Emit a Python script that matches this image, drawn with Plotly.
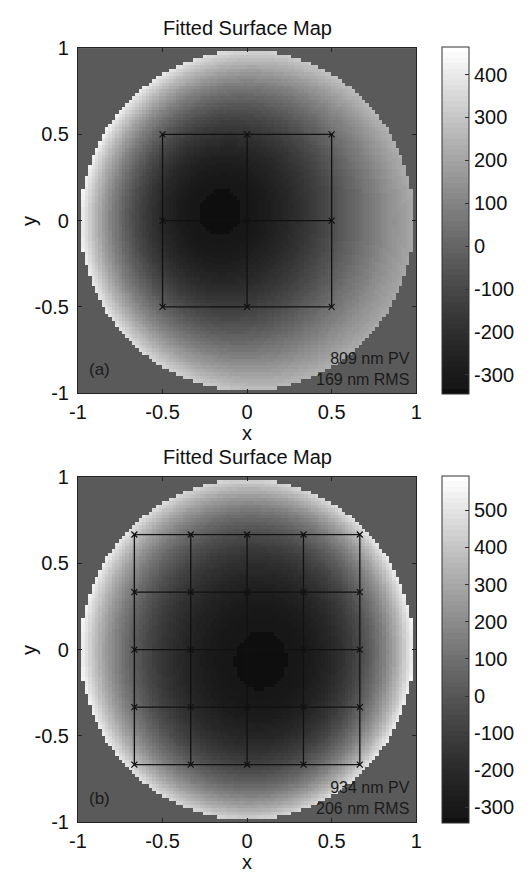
import numpy as np
import plotly.graph_objects as go

# ---------------- data ----------------
# Fitted surface polynomial coefficients (nm):
# z = piston + r2*r^2 + r4*r^4 + astig*(x^2-y^2) + coma_x*(3r^2-2)x + coma_y*(3r^2-2)y + tilt_x*x + tilt_y*y
term_names = ["piston", "r2", "r4", "astig", "coma_x", "coma_y", "tilt_x", "tilt_y"]
coeffs_a = [-323.6, 660.0, 0.0, 0.0, -120.0, 35.0, 0.0, 0.0]
coeffs_b = [-335.0, 495.0, 380.0, 54.0, 33.0, -21.0, -33.0, 21.0]

cbar_range_a = [-345, 464]
cbar_range_b = [-342, 592]
cbar_ticks_a = [-300, -200, -100, 0, 100, 200, 300, 400]
cbar_ticks_b = [-300, -200, -100, 0, 100, 200, 300, 400, 500]

grid_nodes_a = [-0.5, 0.0, 0.5]
grid_nodes_b = [-2 / 3, -1 / 3, 0.0, 1 / 3, 2 / 3]

axis_ticks = [-1, -0.5, 0, 0.5, 1]
axis_ticktext = ["-1", "-0.5", "0", "0.5", "1"]
titles = ["Fitted Surface Map", "Fitted Surface Map"]
panel_labels = ["(a)", "(b)"]
pv_labels = ["809 nm PV", "934 nm PV"]
rms_labels = ["169 nm RMS", "206 nm RMS"]

# ---------------- sampling grid ----------------
N = 100
xs = np.linspace(-0.99, 0.99, N)
ys = np.linspace(-0.99, 0.99, N)
X, Y = np.meshgrid(xs, ys)
R2 = X ** 2 + Y ** 2
aperture = R2 <= 0.985 ** 2


def surface(c):
    p, a2, a4, ast, cx, cy, tx, ty = c
    z = (p + a2 * R2 + a4 * R2 ** 2 + ast * (X ** 2 - Y ** 2)
         + cx * (3 * R2 - 2) * X + cy * (3 * R2 - 2) * Y + tx * X + ty * Y)
    return np.where(aperture, z, np.nan)


# stepped 64-level gray colormap (MATLAB style)
levels = 64
cscale = []
for k in range(levels):
    if k == 0:
        g = 14
    else:
        g = int(round(23 + 232 * ((k - 1) / (levels - 2)) ** 1.25))
    col = f"rgb({g},{g},{g})"
    cscale.append([k / levels, col])
    cscale.append([(k + 1) / levels, col])

W, H = 532, 878
FONT = "Liberation Sans, Arial, sans-serif"
FS = 20


def px_x(px):
    return px / W


def px_y(py):
    return 1 - py / H


panels = [
    dict(coeffs=coeffs_a, rng=cbar_range_a, ticks=cbar_ticks_a, nodes=grid_nodes_a,
         top=38, bot=392, cb_top=37, cb_bot=393),
    dict(coeffs=coeffs_b, rng=cbar_range_b, ticks=cbar_ticks_b, nodes=grid_nodes_b,
         top=478, bot=832, cb_top=477, cb_bot=833),
]

fig = go.Figure()
annotations = []
ax_left, ax_right = 71, 419

for i, pnl in enumerate(panels):
    xa = "x" if i == 0 else "x2"
    ya = "y" if i == 0 else "y2"
    cb_mid = (pnl["cb_top"] + pnl["cb_bot"]) / 2
    fig.add_trace(go.Heatmap(
        x=xs, y=ys, z=surface(pnl["coeffs"]),
        zmin=pnl["rng"][0], zmax=pnl["rng"][1],
        colorscale=cscale, zsmooth=False, hoverongaps=False,
        xaxis=xa, yaxis=ya,
        colorbar=dict(
            x=px_x(446), xanchor="left", y=px_y(cb_mid), yanchor="middle",
            len=(pnl["cb_bot"] - pnl["cb_top"]) / H, lenmode="fraction",
            thickness=27, thicknessmode="pixels", xpad=0, ypad=0,
            outlinewidth=1, outlinecolor="#333333",
            ticks="inside", ticklen=4, tickcolor="#333333", tickwidth=1,
            tickvals=pnl["ticks"], ticktext=[str(t) for t in pnl["ticks"]],
            tickfont=dict(size=FS, family=FONT, color="#111111"),
        ),
    ))
    nodes = pnl["nodes"]
    lo, hi = min(nodes), max(nodes)
    lx, ly = [], []
    for v in nodes:
        lx += [lo, hi, None, v, v, None]
        ly += [v, v, None, lo, hi, None]
    fig.add_trace(go.Scatter(
        x=lx, y=ly, mode="lines", line=dict(color="#111111", width=1.3),
        xaxis=xa, yaxis=ya, showlegend=False, hoverinfo="skip"))
    mx = [a for a in nodes for b in nodes]
    my = [b for a in nodes for b in nodes]
    fig.add_trace(go.Scatter(
        x=mx, y=my, mode="markers",
        marker=dict(symbol="x-thin", size=6, line=dict(color="#111111", width=1.2)),
        xaxis=xa, yaxis=ya, showlegend=False, hoverinfo="skip"))

    top, bot = pnl["top"], pnl["bot"]
    mid = (top + bot) / 2
    annotations += [
        dict(text=titles[i], x=px_x(245), y=px_y(top - 21), xref="paper", yref="paper",
             xanchor="center", yanchor="middle", showarrow=False,
             font=dict(size=FS, family=FONT, color="#111111")),
        dict(text="x", x=px_x(245), y=px_y(bot + 41), xref="paper", yref="paper",
             xanchor="center", yanchor="middle", showarrow=False, borderpad=0,
             font=dict(size=FS, family=FONT, color="#111111")),
        dict(text="y", x=px_x(20), y=px_y(mid), xref="paper", yref="paper",
             xanchor="center", yanchor="middle", showarrow=False, textangle=-90,
             font=dict(size=FS, family=FONT, color="#111111")),
        dict(text=panel_labels[i], x=px_x(93), y=px_y(bot - 24), xref="paper", yref="paper",
             xanchor="center", yanchor="middle", showarrow=False,
             font=dict(size=17, family=FONT, color="#1a1a1a")),
        dict(text=pv_labels[i] + "<br>" + rms_labels[i], x=px_x(414), y=px_y(bot - 25),
             xref="paper", yref="paper", align="right",
             xanchor="right", yanchor="middle", showarrow=False, borderpad=0,
             font=dict(size=16, family=FONT, color="#1a1a1a")),
    ]

axis_common = dict(
    range=[-1, 1], tickvals=axis_ticks, ticktext=axis_ticktext,
    ticks="inside", ticklen=4, tickcolor="#222222", tickwidth=1,
    showline=True, linecolor="#222222", linewidth=1, mirror="allticks",
    showgrid=False, zeroline=False,
    tickfont=dict(size=FS, family=FONT, color="#111111"),
)

fig.update_layout(
    width=W, height=H,
    margin=dict(l=0, r=0, t=0, b=0),
    paper_bgcolor="white", plot_bgcolor="#5a5a5a",
    showlegend=False,
    annotations=annotations,
    xaxis=dict(domain=[px_x(ax_left), px_x(ax_right)], anchor="y", **axis_common),
    yaxis=dict(domain=[px_y(392), px_y(38)], anchor="x", **axis_common),
    xaxis2=dict(domain=[px_x(ax_left), px_x(ax_right)], anchor="y2", **axis_common),
    yaxis2=dict(domain=[px_y(832), px_y(478)], anchor="x2", **axis_common),
)
fig.update_xaxes(ticklabelstandoff=1)
fig.update_yaxes(ticklabelstandoff=4)

fig.write_html("out.html")
